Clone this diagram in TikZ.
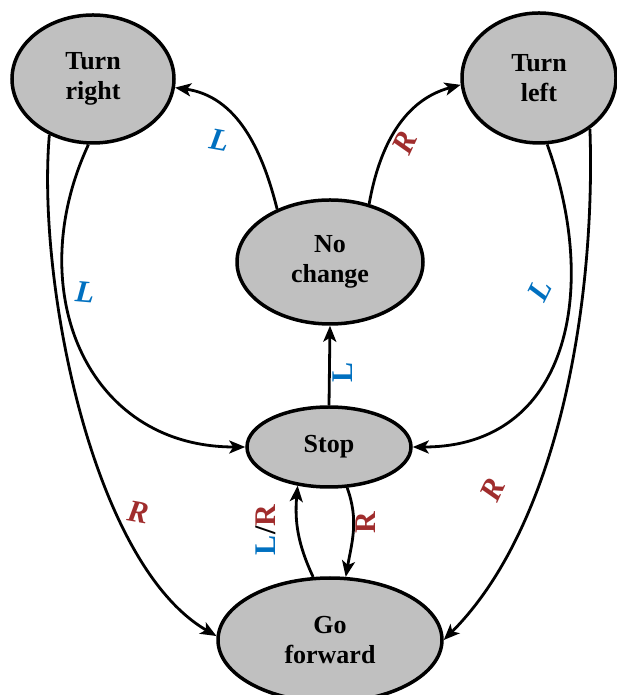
\documentclass[tikz,border=0pt]{standalone}
\usepackage{fontspec}
\setmainfont{Liberation Serif}
\usetikzlibrary{shapes.geometric,arrows.meta}
\definecolor{lblue}{RGB}{0,112,192}
\definecolor{lred}{RGB}{160,45,45}
\definecolor{statefill}{RGB}{192,192,192}
\begin{document}
\begin{tikzpicture}[x=1pt,y=1pt,
  state/.style={ellipse, draw, line width=3.5pt, fill=statefill, inner sep=0pt,
    align=center, font=\fontsize{26}{30}\selectfont\bfseries},
  trans/.style={line width=2.8pt, -{Stealth[length=16pt,width=13pt,inset=4pt]}},
  lab/.style={inner sep=0pt, font=\fontsize{31}{31}\selectfont\bfseries\itshape},
  labup/.style={inner sep=0pt, font=\fontsize{30}{30}\selectfont\bfseries}]
\useasboundingbox (0,0) rectangle (617,695);
\clip (0,0) rectangle (617,695);

% states
\node[state, minimum width=162pt, minimum height=128pt] (tr) at (93,616) {Turn\\right};
\node[state, minimum width=154pt, minimum height=130pt] (tl) at (539,617) {Turn\\left};
\node[state, minimum width=186pt, minimum height=124pt] (nc) at (330,433) {No\\change};
\node[state, minimum width=164pt, minimum height=80pt]  (st) at (329,248) {Stop};
\node[state, minimum width=224pt, minimum height=124pt] (gf) at (330,55)  {Go\\forward};

% transitions
\draw[trans] (nc.135) to[out=104, in=-8] (tr.-6);
\draw[trans] (nc.56) to[out=80, in=195] (tl.185);
\draw[trans] (tr.266) to[out=-115, in=180, looseness=1.2] (st.west);
\draw[trans] (tr.232) to[out=-95, in=150, looseness=0.7] (gf.178);
\draw[trans] (tl.277) to[out=-70, in=0, looseness=1.2] (st.east);
\draw[trans] (tl.315) to[out=-88, in=45, looseness=0.8] (gf.0);
\draw[trans] (st.north) -- (nc.south);
\draw[trans] (gf.105) to[out=115, in=-95] (st.231);
\draw[trans] (st.294) to[out=-70, in=80] (gf.76);

% transition labels
\node[lab, text=lblue, rotate=-10] (l1) at (220,555) {L};
\node[lab, text=lred, rotate=65] (r2) at (405,552) {R};
\node[lab, text=lblue, rotate=-5] (l3) at (85,403) {L};
\node[lab, text=lred, rotate=-10] (r4) at (138,183) {R};
\node[lab, text=lblue, rotate=63] (l5) at (540,405) {L};
\node[lab, text=lred, rotate=65] (r6) at (493,205) {R};
\node[labup, text=lblue, rotate=90] (l7) at (343,323) {L};
\node[labup, rotate=90] (lr8) at (266,165) {\textcolor{lblue}{L}/\textcolor{lred}{R}};
\node[labup, text=lred, rotate=90] (r9) at (366,172) {R};
\end{tikzpicture}
\end{document}
